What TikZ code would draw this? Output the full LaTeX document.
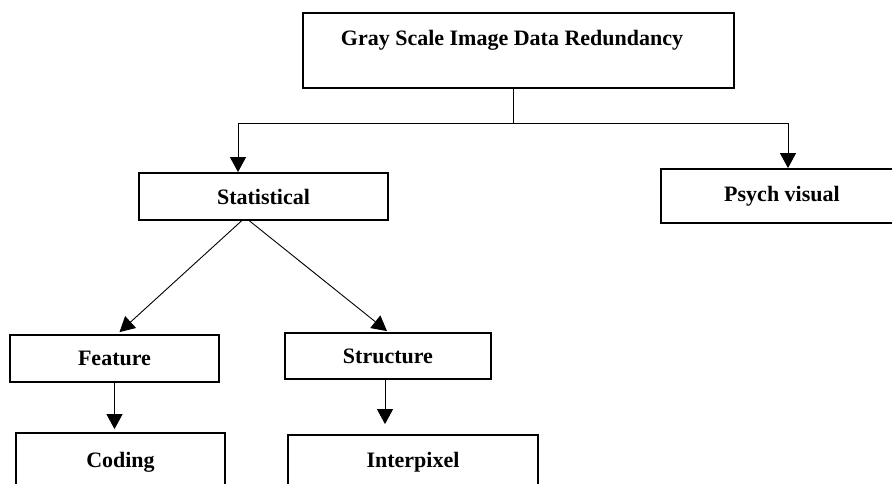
\documentclass[tikz,border=0pt]{standalone}
\usepackage{fontspec}
\setmainfont{Liberation Serif}
\usetikzlibrary{arrows.meta,calc}
\begin{document}
\begin{tikzpicture}[
  x=1pt, y=-1pt,
  caja/.style={draw, line width=1.8pt, inner sep=0pt,
               font=\fontsize{22}{26}\selectfont\bfseries},
  texto/.style={inner sep=0pt, font=\fontsize{22}{26}\selectfont\bfseries},
  flecha/.style={-{Triangle[width=16pt,length=15pt]}, line width=0.9pt},
  linea/.style={line width=0.9pt}
]
  \useasboundingbox (0,0) rectangle (892,483);
  \node[caja, minimum width=431pt, minimum height=75pt] (red) at (518.5,50.5) {};
  \node[texto, anchor=base] (redtxt) at (512,45) {Gray Scale Image Data Redundancy};
  \node[caja, minimum width=249pt, minimum height=47pt] (stat) at (263.5,196.5) {Statistical};
  \node[caja, minimum width=242pt, minimum height=54pt] (psy) at (782,196) {Psych visual};
  \node[caja, minimum width=209pt, minimum height=47pt] (feat) at (114.5,358.5) {Feature};
  \node[caja, minimum width=206pt, minimum height=46pt] (strc) at (388,356) {Structure};
  \node[caja, minimum width=209pt, minimum height=58pt] (cod) at (120.5,462) {Coding};
  \node[caja, minimum width=250pt, minimum height=54pt] (inter) at (413,462) {Interpixel};
  \coordinate (split) at (513,123);
  \coordinate (jl) at (238,123);
  \coordinate (jr) at (788,123);
  \draw[linea] (split |- red.south) -- (split);
  \draw[flecha] (split) -| (jl |- stat.north);
  \draw[flecha] (split) -| (jr |- psy.north);
  \draw[flecha] ($(stat.south)+(-22,0)$) -- ($(feat.north)+(5,-2)$);
  \draw[flecha] ($(stat.south)+(-14,0)$) -- ($(strc.north)+(-1,-1)$);
  \draw[flecha] (feat.south) -- ($(feat.south |- cod.north)+(0,-3)$);
  \draw[flecha] ($(strc.south)+(-3,0)$) -- ($(strc.south |- inter.north)+(-3,-10)$);
\end{tikzpicture}
\end{document}
